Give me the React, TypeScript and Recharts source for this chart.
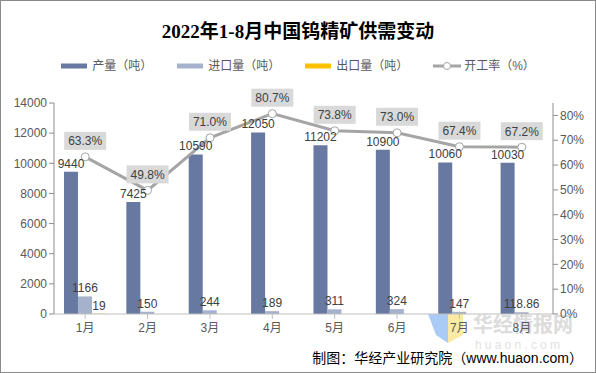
import {
  Bar,
  ComposedChart,
  LabelList,
  Line,
  XAxis,
  YAxis,
} from "recharts";

const months = ["1月", "2月", "3月", "4月", "5月", "6月", "7月", "8月"];
const output = [9440, 7425, 10590, 12050, 11202, 10900, 10060, 10030];
const imports = [1166, 150, 244, 189, 311, 324, 147, 118.86];
const exports: (number | null)[] = [19, null, null, null, null, null, null, null];
const utilization = [63.3, 49.8, 71.0, 80.7, 73.8, 73.0, 67.4, 67.2];

const leftTicks = [0, 2000, 4000, 6000, 8000, 10000, 12000, 14000];
const rightTicks = [0, 10, 20, 30, 40, 50, 60, 70, 80];

const C_OUT = "#6779A0";
const C_IMP = "#A6B1CB";
const C_EXP = "#FFC000";
const C_LINE = "#A5A5A5";
const FONT = "'Liberation Sans', Arial, 'Noto Sans CJK SC', sans-serif";

const rows = months.map((m, i) => ({
  month: m,
  output: output[i],
  imports: imports[i],
  exports: exports[i],
  rate: utilization[i],
}));

const legendItems = [
  { name: "产量（吨）", color: C_OUT, kind: "bar" },
  { name: "进口量（吨）", color: C_IMP, kind: "bar" },
  { name: "出口量（吨）", color: C_EXP, kind: "bar" },
  { name: "开工率（%）", color: C_LINE, kind: "line" },
];

function LegendBox() {
  return (
    <div
      style={{
        position: "absolute",
        top: 57,
        left: 0,
        width: 594,
        display: "flex",
        justifyContent: "center",
        gap: 25,
        fontFamily: FONT,
        fontSize: 12,
        color: "#595959",
        lineHeight: "16px",
      }}
    >
      {legendItems.map((it) => (
        <div key={it.name} style={{ display: "flex", alignItems: "center", gap: 3 }}>
          <svg width={28} height={10}>
            {it.kind === "bar" ? (
              <rect x={0} y={2.5} width={26} height={5} fill={it.color} />
            ) : (
              <>
                <line x1={0} y1={5} x2={28} y2={5} stroke={it.color} strokeWidth={3} />
                <circle cx={14} cy={5} r={3.5} fill="#fff" stroke={it.color} strokeWidth={1} />
              </>
            )}
          </svg>
          <span>{it.name}</span>
        </div>
      ))}
    </div>
  );
}

function RateLabel(props: any) {
  const { x, y, value } = props;
  if (value == null) return null;
  return (
    <g>
      <rect x={x - 21} y={y - 25} width={42} height={18} fill="#D9D9D9" />
      <text
        x={x}
        y={y - 11.5}
        textAnchor="middle"
        fontSize={12}
        fontFamily={FONT}
        fill="#404040"
      >
        {value.toFixed(1)}%
      </text>
    </g>
  );
}

const labelStyle = { fontSize: 12, fontFamily: FONT, fill: "#404040" };

export default function App() {
  return (
    <div
      style={{
        position: "absolute",
        left: 0,
        top: 0,
        width: 594,
        height: 371,
        border: "1px solid #8a8a8a",
        background: "#fff",
        overflow: "hidden",
      }}
    >
      <div
        style={{
          position: "absolute",
          top: 15,
          left: 0,
          width: 594,
          textAlign: "center",
          fontFamily: "'Liberation Serif', 'Noto Sans CJK SC', serif",
          fontWeight: "bold",
          fontSize: 19,
          color: "#000",
        }}
      >
        2022年1-8月中国钨精矿供需变动
      </div>

      <LegendBox />

      {/* watermark */}
      <svg
        width={594}
        height={371}
        style={{ position: "absolute", left: 0, top: 0, pointerEvents: "none" }}
      >
        <polygon points="427,313 447,313 447,342 435,334" fill="#A9CBF6" />
        <polygon points="447,313 462,313 462,334 447,342" fill="#FBEAA6" />
        <text
          x={472}
          y={331}
          fontSize={20}
          fontWeight="bold"
          fontFamily="'Noto Sans CJK SC', sans-serif"
          fill="#DCDCDC"
        >
          华经情报网
        </text>
        <text
          x={474}
          y={348}
          fontSize={12}
          letterSpacing={3.2}
          fontFamily={FONT}
          fill="#E2E2E2"
        >
          huaon.com
        </text>
      </svg>

      <div style={{ position: "absolute", left: 0, top: 0 }}>
        <ComposedChart
          width={594}
          height={371}
          data={rows}
          margin={{ top: 102, right: 0, bottom: 28, left: 0 }}
          barCategoryGap="16%"
          barGap={0}
        >
          <XAxis
            dataKey="month"
            axisLine={{ stroke: "#BFBFBF" }}
            tickLine={{ stroke: "#BFBFBF" }}
            tickSize={5}
            tickMargin={4}
            tick={{ fontSize: 12, fontFamily: FONT, fill: "#595959" }}
            interval={0}
            height={30}
          />
          <YAxis
            yAxisId="left"
            width={53}
            domain={[0, 14000]}
            ticks={leftTicks}
            interval={0}
            axisLine={{ stroke: "#8C8C8C" }}
            tickLine={{ stroke: "#8C8C8C" }}
            tickSize={5}
            tick={{ fontSize: 12, fontFamily: FONT, fill: "#595959" }}
          />
          <YAxis
            yAxisId="right"
            orientation="right"
            width={42}
            domain={[0, 85]}
            ticks={rightTicks}
            interval={0}
            tickFormatter={(v: number) => `${v}%`}
            axisLine={{ stroke: "#8C8C8C" }}
            tickLine={{ stroke: "#8C8C8C" }}
            tickSize={5}
            tick={{ fontSize: 12, fontFamily: FONT, fill: "#595959" }}
          />
          <Bar yAxisId="left" dataKey="output" fill={C_OUT} isAnimationActive={false}>
            <LabelList dataKey="output" position="top" offset={4} style={labelStyle} />
          </Bar>
          <Bar yAxisId="left" dataKey="imports" fill={C_IMP} isAnimationActive={false}>
            <LabelList dataKey="imports" position="top" offset={4} style={labelStyle} />
          </Bar>
          <Bar yAxisId="left" dataKey="exports" fill={C_EXP} isAnimationActive={false}>
            <LabelList
              dataKey="exports"
              position="top"
              offset={4}
              style={labelStyle}
              formatter={(v: any) => (v == null ? "" : v)}
            />
          </Bar>
          <Line
            yAxisId="right"
            dataKey="rate"
            stroke={C_LINE}
            strokeWidth={3}
            dot={{ r: 4, fill: "#fff", stroke: C_LINE, strokeWidth: 1 }}
            isAnimationActive={false}
          >
            <LabelList dataKey="rate" content={RateLabel} />
          </Line>
        </ComposedChart>
      </div>

      <div
        style={{
          position: "absolute",
          top: 346,
          right: 12,
          fontFamily: FONT,
          fontSize: 14,
          color: "#000",
          whiteSpace: "nowrap",
        }}
      >
        制图：华经产业研究院（www.huaon.com）
      </div>
    </div>
  );
}
